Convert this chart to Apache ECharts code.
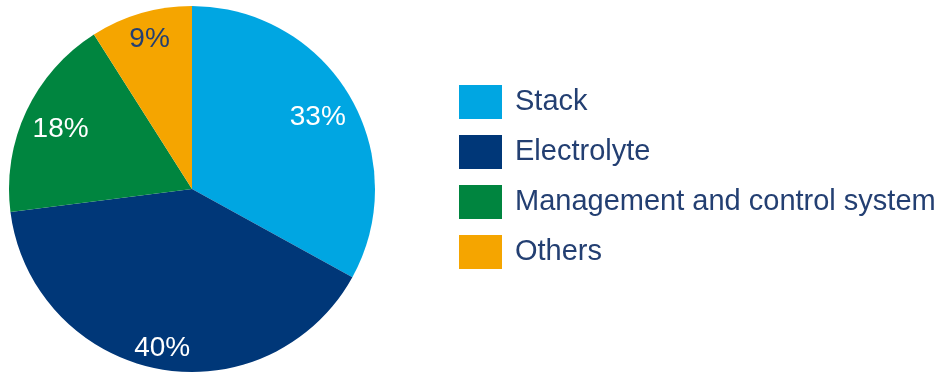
<!DOCTYPE html>
<html>
<head>
<meta charset="utf-8">
<script src="https://cdn.jsdelivr.net/npm/echarts@6/dist/echarts.min.js"></script>
<style>html,body{margin:0;padding:0;background:#fff;}#c{width:938px;height:374px;}</style>
</head>
<body>
<div id="c"></div>
<script>
const categories = ['Stack', 'Electrolyte', 'Management and control system', 'Others'];
const values = [33, 40, 18, 9];
const colors = ['#00a6e2', '#003778', '#00853f', '#f5a500'];
const labelColors = ['#ffffff', '#ffffff', '#ffffff', '#233f72'];

const chart = echarts.init(document.getElementById('c'), null, {renderer: 'canvas'});
const data = categories.map((n, i) => ({name: n, value: values[i], itemStyle: {color: colors[i]}}));
const labelData = categories.map((n, i) => ({name: n, value: values[i], label: {color: labelColors[i]}}));
const nudge = {0: [-2, 4], 1: [-2, 13], 2: [3, 4], 3: [-1, -7]};
chart.setOption({
  animation: false,
  legend: {
    orient: 'vertical',
    left: 454,
    top: 80,
    itemWidth: 43,
    itemHeight: 34,
    itemGap: 16,
    icon: 'rect',
    selectedMode: false,
    data: categories,
    textStyle: {fontFamily: 'Liberation Sans, Arial', fontSize: 29, color: '#233f72', padding: [5, 0, 0, 8]}
  },
  series: [
    {
      type: 'pie',
      center: [192, 189],
      radius: [0, 183],
      startAngle: 90,
      clockwise: true,
      silent: true,
      label: {show: false},
      labelLine: {show: false},
      itemStyle: {borderWidth: 0},
      emphasis: {disabled: true},
      data: data
    },
    {
      type: 'pie',
      center: [192, 189],
      radius: [108, 183],
      startAngle: 90,
      clockwise: true,
      silent: true,
      itemStyle: {color: 'rgba(0,0,0,0)', borderWidth: 0},
      emphasis: {disabled: true},
      label: {
        show: true,
        position: 'inside',
        formatter: '{c}%',
        fontFamily: 'Liberation Sans, Arial',
        fontSize: 28
      },
      labelLine: {show: false},
      labelLayout: function (p) {
        const d = nudge[p.dataIndex];
        return d ? {dx: d[0], dy: d[1]} : {};
      },
      data: labelData
    }
  ]
});
</script>
</body>
</html>
